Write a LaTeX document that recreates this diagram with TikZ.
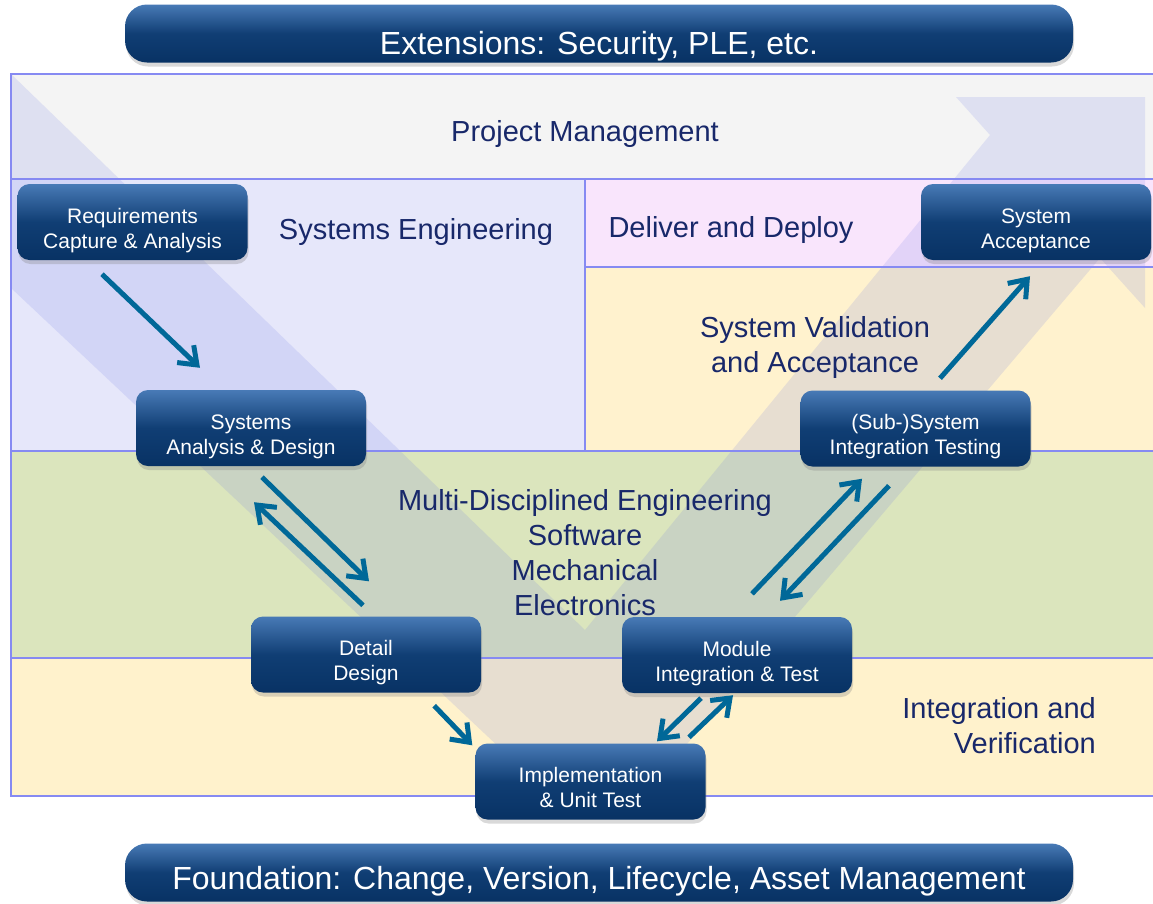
\documentclass[tikz,border=0pt]{standalone}
\usepackage{fontspec}
\setmainfont{Liberation Sans}
\usepackage{xcolor}
\usetikzlibrary{arrows.meta,positioning,shadows}

\definecolor{framecol}{RGB}{134,138,242}
\definecolor{pmfill}{RGB}{244,244,244}
\definecolor{sefill}{RGB}{230,231,250}
\definecolor{ddfill}{RGB}{249,229,252}
\definecolor{svfill}{RGB}{255,242,206}
\definecolor{mdfill}{RGB}{219,229,189}
\definecolor{ivfill}{RGB}{255,242,204}
\definecolor{labelcol}{RGB}{24,40,106}
\definecolor{boxtop}{RGB}{72,122,182}
\definecolor{boxmid}{RGB}{16,62,116}
\definecolor{boxbot}{RGB}{8,50,100}
\definecolor{arrowcol}{RGB}{0,104,152}
\definecolor{vcol}{RGB}{110,120,230}

\tikzset{
    %Define standard arrow tip
    >={Straight Barb[length=16pt,width=24pt]},
    %Define style for boxes
    stage/.style={
           rectangle,
           rounded corners=12pt,
           minimum width=230pt,
           minimum height=76pt,
           inner sep=0pt,
           align=center,
           text=white,
           font=\fontsize{21}{25}\selectfont,
           text height=58pt,
           text depth=6pt,
           top color=boxtop, bottom color=boxbot, middle color=boxmid,
           drop shadow={shadow xshift=1pt,shadow yshift=-4pt,opacity=0.3}},
     banner/.style={
           stage,
           rounded corners=22pt,
           minimum width=948pt,
           minimum height=58pt,
           font=\fontsize{32}{36}\selectfont},
     area/.style={
           text=labelcol,
           inner sep=0pt,
           align=center,
           anchor=base,
           font=\fontsize{29}{35}\selectfont},
     partline/.style={draw=framecol, line width=2pt},
     vband/.style={fill=vcol, fill opacity=0.16},
    % Define arrow style
    pil/.style={
           ->,
           draw=arrowcol,
           line width=5pt}
}

\begin{document}
\begin{tikzpicture}[x=1pt,y=-1pt]
\useasboundingbox (0,0) rectangle (1153,903);
 %regions
\fill[pmfill] (11,74) rectangle (1160,179);
\fill[sefill] (11,179) rectangle (585,451);
\fill[ddfill] (585,179) rectangle (1160,267);
\fill[svfill] (585,267) rectangle (1160,451);
\fill[mdfill] (11,451) rectangle (1160,658);
\fill[ivfill] (11,658) rectangle (1160,796);
\begin{scope}
\clip (11,74) rectangle (1160,796);
\fill[vband] (11,74) -- (585,630) -- (990,135) -- (956,97) -- (1145,97)
   -- (1145,308) -- (1100,258) -- (602,844) -- (11,288) -- cycle;
\end{scope}
\draw[partline] (11,74) rectangle (1160,796);
\draw[partline] (11,179) -- (1160,179) (11,451) -- (1160,451) (11,658) -- (1160,658)
   (585,179) -- (585,451) (585,267) -- (1160,267);
 %labels
\node[area] (pm) at (585,141) {Project Management};
\node[area] (se) at (416,239) {Systems Engineering};
\node[area] (dep) at (731,237) {Deliver and Deploy};
\node[area] (val) at (815,372.7) {System Validation\\and Acceptance};
\node[area] (mde) at (585,615.7) {Multi-Disciplined Engineering\\Software\\Mechanical\\Electronics};
\node[area, align=right, anchor=base east] (ver) at (1096,753) {Integration and\\Verification};
 %banners
\node[banner, text height=47pt, text depth=6pt] (ext) at (599,33.5) {Extensions: Security, PLE, etc.};
\node[banner, text height=39pt, text depth=6pt] (fnd) at (599,872.5) {Foundation: Change, Version, Lifecycle, Asset Management};
 %nodes
\node[stage] (req) at (132.5,222) {Requirements\\Capture \& Analysis};
\node[stage] (sad) at (251,428) {Systems\\Analysis \& Design};
\node[stage] (dd) at (366,654.5) {Detail\\Design};
\node[stage] (impl) at (590.5,781.5) {Implementation\\\& Unit Test};
\node[stage] (mit) at (737,655) {Module\\Integration \& Test};
\node[stage] (sit) at (915.5,428.5) {(Sub-)System\\Integration Testing};
\node[stage] (acc) at (1036,222) {System\\Acceptance};
 %arrows
\draw[pil] ([shift={(-30.5,14)}]req.south) -- ([shift={(-51,-22)}]sad.north);
\draw[pil] ([shift={(11,11)}]sad.south) -- ([shift={(3,-35)}]dd.north);
\draw[pil] ([shift={(-3,-11)}]dd.north) -- ([shift={(3,36)}]sad.south);
\draw[pil] ([shift={(-47,13)}]dd.south east) -- ([shift={(-3,2)}]impl.north west);
\draw[pil] ([shift={(98.5,-6)}]impl.north) -- ([shift={(-4,2)}]mit.south);
\draw[pil] ([shift={(-36,5)}]mit.south) -- ([shift={(66.5,-2)}]impl.north);
\draw[pil] ([shift={(15,-23)}]mit.north) -- ([shift={(-53.5,12)}]sit.south);
\draw[pil] ([shift={(-26.5,19)}]sit.south) -- ([shift={(43,-16)}]mit.north);
\draw[pil] ([shift={(24.5,-12)}]sit.north) -- ([shift={(-6,16)}]acc.south);
\end{tikzpicture}
\end{document}
